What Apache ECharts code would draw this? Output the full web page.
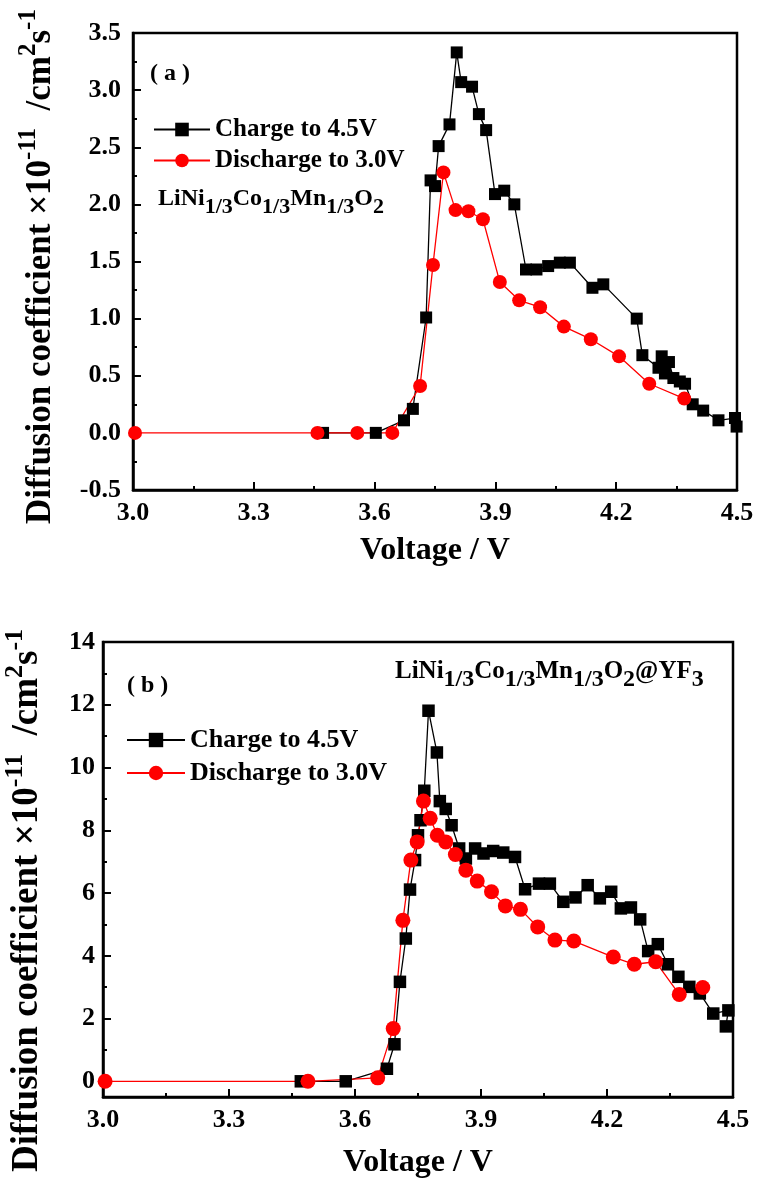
<!DOCTYPE html>
<html><head><meta charset="utf-8">
<script src="https://cdn.jsdelivr.net/npm/echarts@6/dist/echarts.min.js"></script>
<style>html,body{margin:0;padding:0;background:#fff}#c{width:764px;height:1181px}</style>
</head><body><div id="c"></div>
<script>
// ---- data: panel (a) ----
const chargeA_V = [3.472,3.603,3.673,3.695,3.728,3.739,3.750,3.759,3.786,3.804,3.815,3.842,3.859,3.877,3.899,3.922,3.947,3.976,4.002,4.031,4.060,4.085,4.141,4.168,4.251,4.265,4.305,4.313,4.321,4.331,4.342,4.358,4.371,4.390,4.416,4.454,4.495,4.499];
const chargeA_D = [0,0,0.11,0.21,1.01,2.21,2.16,2.51,2.70,3.33,3.07,3.03,2.79,2.65,2.09,2.12,2.00,1.43,1.43,1.46,1.49,1.49,1.27,1.30,1.00,0.68,0.57,0.67,0.52,0.62,0.48,0.45,0.43,0.25,0.195,0.11,0.13,0.055];
const dischargeA_V = [3.005,3.458,3.557,3.644,3.713,3.745,3.771,3.801,3.833,3.869,3.911,3.959,4.011,4.070,4.137,4.207,4.282,4.369];
const dischargeA_D = [0,0,0,0,0.41,1.47,2.28,1.95,1.94,1.87,1.32,1.16,1.10,0.93,0.82,0.67,0.43,0.30];
// ---- data: panel (b) ----
const chargeB_V = [3.471,3.578,3.676,3.694,3.707,3.721,3.731,3.743,3.750,3.756,3.765,3.775,3.795,3.802,3.816,3.830,3.848,3.864,3.886,3.906,3.929,3.953,3.981,4.005,4.038,4.064,4.096,4.125,4.154,4.183,4.210,4.233,4.257,4.279,4.298,4.321,4.345,4.370,4.396,4.421,4.453,4.489,4.483];
const chargeB_D = [0,0,0.40,1.18,3.17,4.55,6.11,7.05,7.84,8.32,9.26,11.81,10.48,8.93,8.68,8.16,7.42,7.10,7.42,7.26,7.34,7.29,7.15,6.12,6.30,6.30,5.72,5.86,6.25,5.83,6.04,5.51,5.54,5.16,4.15,4.37,3.73,3.33,3.01,2.80,2.16,2.26,1.75];
const dischargeB_V = [3.005,3.488,3.654,3.691,3.714,3.733,3.748,3.763,3.779,3.796,3.816,3.839,3.864,3.891,3.925,3.958,3.994,4.035,4.076,4.121,4.215,4.265,4.316,4.372,4.428];
const dischargeB_D = [0,0,0.11,1.68,5.13,7.05,7.63,8.93,8.38,7.84,7.63,7.23,6.73,6.38,6.04,5.59,5.48,4.92,4.50,4.47,3.96,3.73,3.81,2.77,2.99];
// ---- ticks ----
const xTicks = [3.0,3.3,3.6,3.9,4.2,4.5];
const yTicksA = [-0.5,0.0,0.5,1.0,1.5,2.0,2.5,3.0,3.5];
const yTicksB = [0,2,4,6,8,10,12,14];
const yMinorB = [1,3,5,7,9,11,13];
const seriesNames = ['Charge to 4.5V','Discharge to 3.0V'];

const zip = (a,b) => a.map((v,i)=>[v,b[i]]);
const FF = '"Liberation Serif","Times New Roman",serif';
const T = {fontFamily:FF, fontWeight:'bold', color:'#000'};

function xAxisCfg(g, gap){
  return {gridIndex:g, type:'value', min:xTicks[0], max:xTicks[xTicks.length-1], interval:0.3,
    axisLine:{show:true, onZero:false, lineStyle:{color:'#000', width:2.5}},
    axisTick:{show:true, inside:true, length:8, lineStyle:{color:'#000', width:2}},
    minorTick:{show:true, splitNumber:2, length:4, lineStyle:{color:'#000', width:2}},
    splitLine:{show:false}, minorSplitLine:{show:false},
    axisLabel:{...T, fontSize:26, margin:10, formatter:v=>v.toFixed(1)},
    name:'Voltage / V', nameLocation:'middle', nameGap:gap,
    nameTextStyle:{...T, fontSize:32}};
}
function yName(fs, sfs, gap, pad){
  return {name:'Diffusion coefficient ×10{sup|-11}  /cm{sup|2}s{sup|-1}', nameLocation:'middle', nameGap:gap,
    nameTextStyle:{...T, fontSize:fs, lineHeight:fs+14, padding:[0,pad,0,0],
      rich:{sup:{...T, fontSize:sfs, lineHeight:sfs, verticalAlign:'top'}}}};
}

const option = {
  backgroundColor:'#fff',
  animation:false,
  grid:[
    {left:133, right:27, top:33, bottom:691, show:true, borderColor:'#000', borderWidth:2.5, containLabel:false, outerBoundsMode:'none'},
    {left:103, right:31, top:642, bottom:84, show:true, borderColor:'#000', borderWidth:2.5, containLabel:false, outerBoundsMode:'none'}
  ],
  xAxis:[xAxisCfg(0,45), xAxisCfg(1,50)],
  yAxis:[
    Object.assign({gridIndex:0, type:'value', min:yTicksA[0], max:yTicksA[yTicksA.length-1], interval:0.5,
      axisLine:{show:true, onZero:false, lineStyle:{color:'#000', width:2.5}},
      axisTick:{show:true, inside:true, length:8, lineStyle:{color:'#000', width:2}},
      minorTick:{show:true, splitNumber:2, length:4, lineStyle:{color:'#000', width:2}},
      splitLine:{show:false}, minorSplitLine:{show:false},
      axisLabel:{...T, fontSize:26, margin:12, formatter:v=>v.toFixed(1)}}, yName(35,25,68,10)),
    Object.assign({gridIndex:1, type:'value', min:-0.5, max:14,
      axisLine:{show:true, onZero:false, lineStyle:{color:'#000', width:2.5}},
      axisTick:{show:true, inside:true, length:8, customValues:yTicksB, lineStyle:{color:'#000', width:2}},
      splitLine:{show:false},
      axisLabel:{...T, fontSize:26, margin:8, customValues:yTicksB}}, yName(37,26,50,62)),
    {gridIndex:1, type:'value', min:-0.5, max:14, position:'left', offset:0,
      axisLine:{show:false}, splitLine:{show:false}, axisLabel:{show:false},
      axisTick:{show:true, inside:true, length:4, customValues:yMinorB, lineStyle:{color:'#000', width:2}}}
  ],
  legend:[
    {orient:'vertical', left:148, top:112, itemWidth:56, itemHeight:17, itemGap:6, data:seriesNames,
      selectedMode:false, textStyle:{...T, fontSize:25, lineHeight:24}},
    {orient:'vertical', left:121, top:722, itemWidth:58, itemHeight:18, itemGap:7, data:seriesNames,
      selectedMode:false, textStyle:{...T, fontSize:26, lineHeight:24}}
  ],
  graphic:[
    {type:'text', left:150, top:62, style:{text:'( a )', fontFamily:FF, fontWeight:'bold', fontSize:24, fill:'#000'}},
    {type:'text', left:158, top:187, style:{text:'{b|LiNi}{s|1/3}{b|Co}{s|1/3}{b|Mn}{s|1/3}{b|O}{s|2}',
      rich:{b:{...T, fontSize:24, lineHeight:38}, s:{...T, fontSize:22, lineHeight:22, verticalAlign:'bottom'}}}},
    {type:'text', left:127, top:674, style:{text:'( b )', fontFamily:FF, fontWeight:'bold', fontSize:24, fill:'#000'}},
    {type:'text', left:395, top:659, style:{text:'{b|LiNi}{s|1/3}{b|Co}{s|1/3}{b|Mn}{s|1/3}{b|O}{s|2}{b|@YF}{s|3}',
      rich:{b:{...T, fontSize:25, lineHeight:40}, s:{...T, fontSize:24, lineHeight:24, verticalAlign:'bottom'}}}}
  ],
  series:[
    {name:seriesNames[0], type:'line', xAxisIndex:0, yAxisIndex:0, data:zip(chargeA_V,chargeA_D),
      symbol:'rect', symbolSize:12, itemStyle:{color:'#000'}, lineStyle:{color:'#000', width:1.3}},
    {name:seriesNames[1], type:'line', xAxisIndex:0, yAxisIndex:0, data:zip(dischargeA_V,dischargeA_D),
      symbol:'circle', symbolSize:14, itemStyle:{color:'#ff0000'}, lineStyle:{color:'#ff0000', width:1.3}},
    {name:seriesNames[0], type:'line', xAxisIndex:1, yAxisIndex:1, data:zip(chargeB_V,chargeB_D),
      symbol:'rect', symbolSize:12.5, itemStyle:{color:'#000'}, lineStyle:{color:'#000', width:1.3}},
    {name:seriesNames[1], type:'line', xAxisIndex:1, yAxisIndex:1, data:zip(dischargeB_V,dischargeB_D),
      symbol:'circle', symbolSize:15, itemStyle:{color:'#ff0000'}, lineStyle:{color:'#ff0000', width:1.3}}
  ]
};
const chart = echarts.init(document.getElementById('c'), null, {renderer:'canvas'});
chart.setOption(option);
</script></body></html>
